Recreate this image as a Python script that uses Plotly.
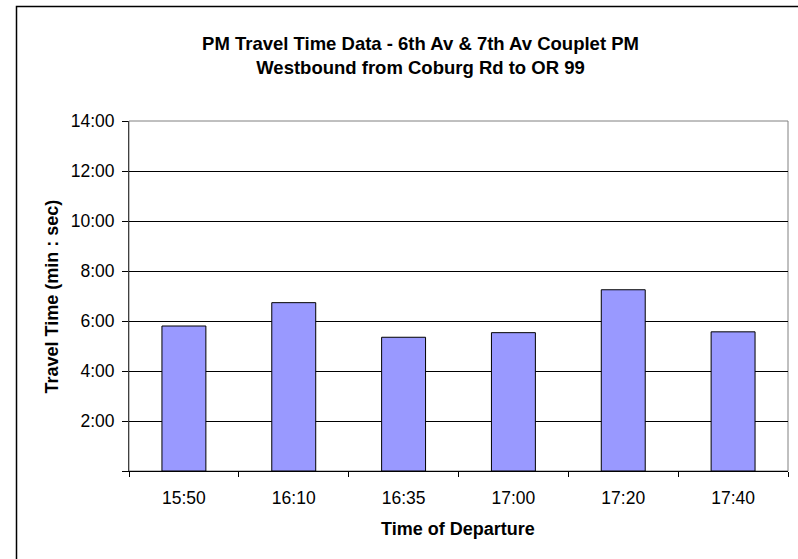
import plotly.graph_objects as go

departure_times = ["15:50", "16:10", "16:35", "17:00", "17:20", "17:40"]
travel_times = ["5:48", "6:44", "5:21", "5:32", "7:15", "5:34"]
y_tick_values = [0, 2, 4, 6, 8, 10, 12, 14]
y_tick_labels = ["", "2:00", "4:00", "6:00", "8:00", "10:00", "12:00", "14:00"]


def to_minutes(s):
    m, sec = s.split(":")
    return int(m) + int(sec) / 60.0


values = [to_minutes(t) for t in travel_times]

font_family = "Liberation Sans, Arial, sans-serif"

W, H = 798, 559
L, R, T, B = 129, 10, 121, 88
PW, PH = W - L - R, H - T - B

fig = go.Figure(
    go.Bar(
        x=departure_times,
        y=values,
        marker=dict(color="#9999FF", line=dict(color="#000000", width=1)),
        width=0.4,
        customdata=travel_times,
        hovertemplate="%{x}: %{customdata}<extra></extra>",
    )
)

fig.update_layout(
    width=W,
    height=H,
    margin=dict(l=L, r=R, t=T, b=B),
    paper_bgcolor="white",
    plot_bgcolor="white",
    showlegend=False,
    font=dict(family=font_family, size=17.5, color="black"),
    title=dict(
        text="<b>PM Travel Time Data - 6th Av &amp; 7th Av Couplet PM<br>Westbound from Coburg Rd to OR 99</b>",
        x=420.5 / W,
        xanchor="center",
        y=1 - 50 / H,
        yanchor="middle",
        font=dict(family=font_family, size=18.5, color="black"),
    ),
    xaxis=dict(
        type="category",
        tickson="boundaries",
        ticks="outside",
        ticklen=5,
        tickcolor="black",
        showline=True,
        linecolor="black",
        linewidth=1,
        showgrid=False,
        tickfont=dict(size=17.5),
        ticklabelstandoff=11,
    ),
    yaxis=dict(
        range=[0, 14],
        tickvals=y_tick_values,
        ticktext=y_tick_labels,
        ticks="outside",
        ticklen=6,
        tickcolor="black",
        showline=True,
        linecolor="#404040",
        linewidth=1,
        showgrid=True,
        gridcolor="black",
        gridwidth=1,
        zeroline=False,
        tickfont=dict(size=17.5),
        ticklabelstandoff=4,
    ),
    annotations=[
        dict(text="<b>Time of Departure</b>", xref="paper", yref="paper",
             x=(457.5 - L) / PW, y=-(529 - (T + PH)) / PH,
             xanchor="center", yanchor="middle", showarrow=False,
             font=dict(size=18)),
        dict(text="<b>Travel Time (min : sec)</b>", xref="paper", yref="paper",
             x=-(L - 51) / PW, y=(T + PH - 296.5) / PH, textangle=-90,
             xanchor="center", yanchor="middle", showarrow=False,
             font=dict(size=18)),
    ],
    shapes=[
        dict(type="rect", xref="paper", yref="paper", x0=0, x1=1, y0=0, y1=1,
             line=dict(color="#808080", width=1), layer="below"),
        dict(type="rect", xref="paper", yref="paper",
             x0=-(L - 16.5) / PW, x1=(W + 5 - L) / PW,
             y0=-(H + 5 - (T + PH)) / PH, y1=(T + PH - 6.5) / PH,
             line=dict(color="black", width=1.5)),
    ],
)

fig.write_html(
    "out.html",
    config={"displayModeBar": False},
    post_script="document.body.style.margin='0';document.body.style.overflow='hidden';",
)
